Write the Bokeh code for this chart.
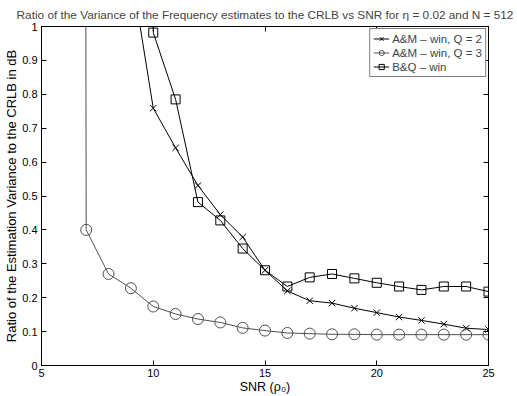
from bokeh.plotting import figure
from bokeh.models import (Range1d, LinearAxis, FixedTicker, CustomJSTickFormatter,
                          Legend, LegendItem)
from bokeh.embed import file_html
from bokeh.resources import INLINE

# ---- data ----
snr_am2 = [9, 10, 11, 12, 13, 14, 15, 16, 17, 18, 19, 20, 21, 22, 23, 24, 25]
ratio_am2 = [1.17, 0.759, 0.642, 0.531, 0.445, 0.379, 0.281, 0.220, 0.191, 0.184,
             0.169, 0.156, 0.143, 0.133, 0.122, 0.110, 0.106]

snr_am3 = [6, 7, 8, 9, 10, 11, 12, 13, 14, 15, 16, 17, 18, 19, 20, 21, 22, 23, 24, 25]
ratio_am3 = [40.0, 0.400, 0.270, 0.228, 0.174, 0.152, 0.137, 0.127, 0.111, 0.103,
             0.096, 0.094, 0.092, 0.092, 0.091, 0.091, 0.091, 0.091, 0.091, 0.091]

snr_bq = [9, 10, 11, 12, 13, 14, 15, 16, 17, 18, 19, 20, 21, 22, 23, 24, 25]
ratio_bq = [3.0, 0.982, 0.785, 0.482, 0.428, 0.345, 0.281, 0.233, 0.260, 0.270,
            0.257, 0.244, 0.233, 0.223, 0.233, 0.233, 0.218]

x_ticks = [5, 10, 15, 20, 25]
y_ticks = [0, 0.1, 0.2, 0.3, 0.4, 0.5, 0.6, 0.7, 0.8, 0.9, 1]

title_text = "Ratio of the Variance of the Frequency estimates to the CRLB vs SNR for \u03b7 = 0.02 and N = 512"
xlabel = "SNR (\u03c1\u2080)"
ylabel = "Ratio of the Estimation Variance to the CRLB in dB"
names = ["A&M \u2013 win, Q = 2", "A&M \u2013 win, Q = 3", "B&Q \u2013 win"]

FONT = "Liberation Sans"

p = figure(width=517, height=396, output_backend="svg", toolbar_location=None,
           x_range=Range1d(5, 25), y_range=Range1d(0, 1),
           min_border_left=41, min_border_right=29, min_border_top=25, min_border_bottom=30)

p.title.text = title_text
p.title.text_font = FONT
p.title.text_font_size = "11.8px"
p.title.text_font_style = "normal"
p.title.align = "center"
p.title.standoff = 10

p.xgrid.grid_line_color = None
p.ygrid.grid_line_color = None
p.outline_line_color = "black"
p.outline_line_width = 1
p.background_fill_color = "white"
p.border_fill_color = "white"

def style_axis(ax):
    ax.axis_line_color = "black"
    ax.axis_line_width = 1
    ax.major_tick_in = 5
    ax.major_tick_out = 0
    ax.major_tick_line_color = "black"
    ax.minor_tick_line_color = None
    ax.major_label_text_font = FONT
    ax.major_label_text_font_size = "11px"
    ax.major_label_text_color = "black"
    ax.axis_label_text_font = FONT
    ax.axis_label_text_font_size = "13px"
    ax.axis_label_text_font_style = "normal"
    ax.axis_label_text_color = "black"

xa = p.xaxis[0]
ya = p.yaxis[0]
style_axis(xa)
style_axis(ya)
xa.axis_label_text_font_size = "12.5px"
xa.ticker = FixedTicker(ticks=x_ticks)
ya.ticker = FixedTicker(ticks=y_ticks)
ya.formatter = CustomJSTickFormatter(code="return (Math.round(tick*10)/10).toString();")
xa.axis_label = xlabel
ya.axis_label = ylabel
xa.major_label_standoff = 3
xa.axis_label_standoff = 0
ya.major_label_standoff = 4
ya.axis_label_standoff = 0

blank = CustomJSTickFormatter(code="return '';")
top = LinearAxis(ticker=FixedTicker(ticks=x_ticks), formatter=blank)
right = LinearAxis(ticker=FixedTicker(ticks=y_ticks), formatter=blank)
for ax in (top, right):
    style_axis(ax)
    ax.major_label_text_font_size = "0px"
    ax.major_label_standoff = 0
p.add_layout(top, "above")
p.add_layout(right, "right")

gray = "#505050"
l1 = p.line(snr_am2, ratio_am2, line_color="black", line_width=1)
s1 = p.scatter(snr_am2, ratio_am2, marker="x", size=9, line_color="black", line_width=1)
l2 = p.line(snr_am3, ratio_am3, line_color=gray, line_width=1)
s2 = p.scatter(snr_am3, ratio_am3, marker="circle", size=11, line_color=gray,
               fill_color=None, line_width=1)
l3 = p.line(snr_bq, ratio_bq, line_color="black", line_width=1)
s3 = p.scatter(snr_bq, ratio_bq, marker="square", size=9, line_color="black",
               fill_color=None, line_width=1)

legend = Legend(items=[LegendItem(label=names[0], renderers=[l1, s1]),
                       LegendItem(label=names[1], renderers=[l2, s2]),
                       LegendItem(label=names[2], renderers=[l3, s3])],
                location="top_right", margin=2)
legend.label_text_font = FONT
legend.label_text_font_size = "11.5px"
legend.label_height = 13
legend.glyph_height = 13
legend.glyph_width = 16
legend.label_standoff = 3
legend.padding = 3
legend.spacing = 1
legend.border_line_color = "black"
legend.border_line_width = 1
legend.background_fill_color = "white"
legend.background_fill_alpha = 1
p.add_layout(legend)

open("out.html", "w").write(file_html(p, INLINE))
